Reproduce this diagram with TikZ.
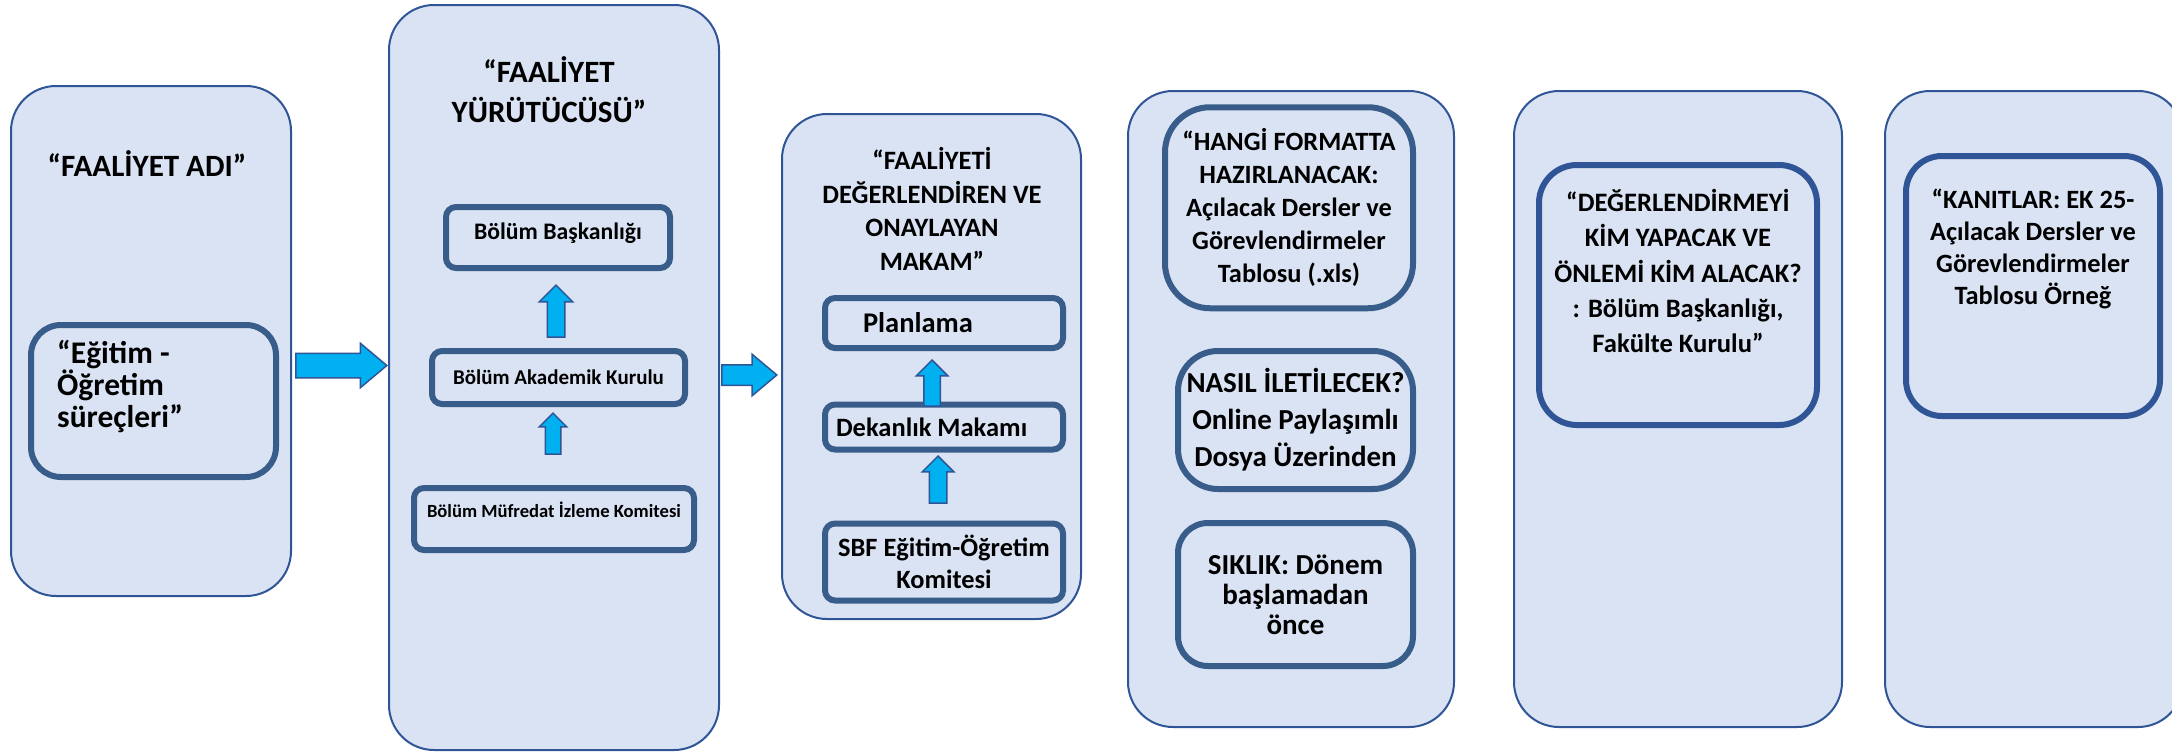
\documentclass[tikz,border=0pt]{standalone}
\usepackage{fontspec}
\setmainfont{Carlito}
\usetikzlibrary{shapes.arrows}

\definecolor{stageFill}{HTML}{DAE3F3}
\definecolor{stageLine}{HTML}{2F5597}
\definecolor{itemLine}{HTML}{385D8A}
\definecolor{arrowFill}{HTML}{00B0F0}

\tikzset{
  stage/.style={draw=stageLine, line width=2pt, fill=stageFill, rounded corners=45pt},
  item/.style={draw=itemLine, line width=6pt, fill=stageFill, inner sep=0pt, align=center},
  txt/.style 2 args={font=\fontsize{#1}{#2}\selectfont\bfseries},
  flow/.style={single arrow, draw=stageLine, line width=1.5pt, fill=arrowFill,
               inner sep=0pt, minimum width=0pt, text depth=0pt, anchor=tip},
}

\begin{document}
\begin{tikzpicture}[x=1pt, y=-1pt]
	\clip (0,0) rectangle (2172,753);

	% Stages
	\node[stage, minimum width=280pt, minimum height=510pt] (adi) at (151,341) {};
	\node[stage, minimum width=330pt, minimum height=745pt] (yurutucu) at (554,377.5) {};
	\node[stage, minimum width=299pt, minimum height=505pt] (makam) at (931.5,366.5) {};
	\node[stage, minimum width=326pt, minimum height=636pt] (bicim) at (1291,409) {};
	\node[stage, minimum width=328pt, minimum height=636pt] (degerlendirme) at (1678,409) {};
	\node[stage, minimum width=298pt, minimum height=636pt] (kanit) at (2034,409) {};

	% Titles
	\node[txt={31}{40}] (adiTitle) at (147,164) {“FAALİYET ADI”};
	\node[txt={31}{40}, align=center] (yurutucuTitle) at (549,90) {“FAALİYET\\YÜRÜTÜCÜSÜ”};
	\node[txt={26.5}{33.8}, align=center] (makamTitle) at (932,209)
	      {“FAALİYETİ\\DEĞERLENDİREN VE\\ONAYLAYAN\\MAKAM”};

	% Activity name
	\node[item, rounded corners=30pt, minimum width=245pt, minimum height=152pt]
	      (surec) at (153.5,401) {};
	\node[txt={31.5}{32}, align=flush left, anchor=west, inner sep=0pt] (surecText) at (57,387)
	      {“Eğitim -\\Öğretim\\süreçleri”};

	% Executors
	\node[item, rounded corners=10pt, minimum width=224pt, minimum height=61pt, txt={23.7}{28},
	      text depth=12pt]
	      (baskanlik) at (558,237.5) {Bölüm Başkanlığı};
	\node[item, rounded corners=10pt, minimum width=253pt, minimum height=53pt, txt={21}{25}]
	      (akademik) at (558.5,377.5) {Bölüm Akademik Kurulu};
	\node[item, rounded corners=10pt, minimum width=280pt, minimum height=62pt, txt={18.6}{22},
	      text depth=18pt]
	      (mufredat) at (554,519) {Bölüm Müfredat İzleme Komitesi};

	% Approval chain
	\node[item, rounded corners=10pt, minimum width=238pt, minimum height=50pt, txt={28.5}{34},
	      text width=162pt, inner xsep=38pt, align=flush left]
	      (planlama) at (944,323) {Planlama};
	\node[item, rounded corners=10pt, minimum width=238pt, minimum height=45pt, txt={26.5}{32},
	      text width=216pt, inner xsep=11pt, align=flush left]
	      (dekanlik) at (944,427) {Dekanlık Makamı};
	\node[item, rounded corners=10pt, minimum width=238pt, minimum height=77pt, txt={26.4}{32.6}]
	      (sbf) at (944,562) {SBF Eğitim-Öğretim\\Komitesi};

	% Format, channel, frequency
	\node[item, rounded corners=45pt, minimum width=248pt, minimum height=201pt, txt={26.4}{33}]
	      (hangi) at (1289,207.75)
	      {“HANGİ FORMATTA\\HAZIRLANACAK:\\Açılacak Dersler ve\\Görevlendirmeler\\Tablosu (.xls)};
	\node[item, rounded corners=40pt, minimum width=235pt, minimum height=138pt, txt={29}{37}]
	      (nasil) at (1295.5,420) {NASIL İLETİLECEK?\\Online Paylaşımlı\\Dosya Üzerinden};
	\node[item, rounded corners=30pt, minimum width=235pt, minimum height=143pt, txt={29}{30}]
	      (siklik) at (1295.5,594.5) {SIKLIK: Dönem\\başlamadan\\önce};

	% Evaluation
	\node[item, draw=stageLine, rounded corners=38pt, minimum width=278pt, minimum height=260pt]
	      (kim) at (1678,295) {};
	\node[txt={26.6}{35.4}, align=center] (kimText) at (1678,271)
	      {“DEĞERLENDİRMEYİ\\KİM YAPACAK VE\\ÖNLEMİ KİM ALACAK?\\: Bölüm Başkanlığı,\\Fakülte Kurulu”};

	% Evidence
	\node[item, draw=stageLine, rounded corners=36pt, minimum width=254pt, minimum height=260pt]
	      (kanitlar) at (2033,286) {};
	\node[txt={26.4}{32.3}, align=center] (kanitText) at (2033,249)
	      {“KANITLAR: EK 25-\\Açılacak Dersler ve\\Görevlendirmeler\\Tablosu Örneğ};

	% Flow arrows
	\node[flow, text height=23pt, single arrow head extend=10pt, single arrow tip angle=80,
	      minimum height=91pt] (toYurutucu) at (388,365.5) {};
	\node[flow, text height=19pt, single arrow head extend=10.5pt, single arrow tip angle=80,
	      minimum height=55pt] (toMakam) at (778,375) {};
	\node[flow, rotate=90, text height=16pt, single arrow head extend=8pt,
	      minimum height=52pt] (akademikUp) at (556,284) {};
	\node[flow, rotate=90, text height=14pt, single arrow head extend=6pt,
	      minimum height=41pt] (mufredatUp) at (553,412) {};
	\node[flow, rotate=90, text height=15pt, single arrow head extend=7.5pt,
	      minimum height=46pt] (dekanlikUp) at (932,359) {};
	\node[flow, rotate=90, text height=16pt, single arrow head extend=7pt,
	      minimum height=47pt] (sbfUp) at (938,455) {};
\end{tikzpicture}
\end{document}
